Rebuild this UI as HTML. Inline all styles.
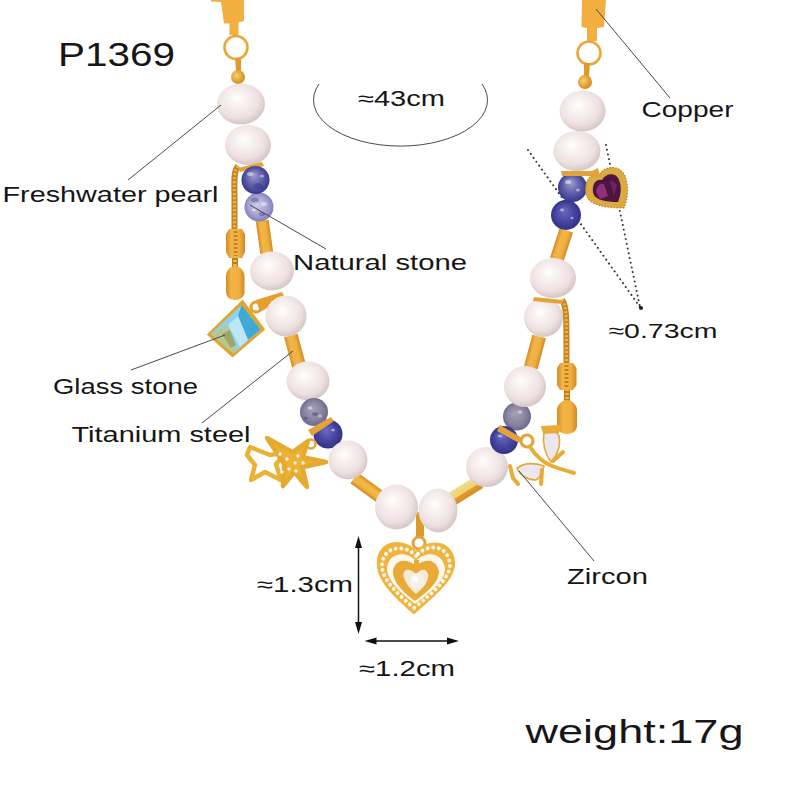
<!DOCTYPE html>
<html><head><meta charset="utf-8">
<style>
html,body{margin:0;padding:0;background:#fff;}
body{width:800px;height:800px;overflow:hidden;position:relative;}
svg{position:absolute;left:0;top:0;}
text{font-family:"Liberation Sans",sans-serif;fill:#161616;}
</style></head><body>
<svg width="800" height="800" viewBox="0 0 800 800">
<defs>
  <radialGradient id="pearl" cx="0.45" cy="0.42" r="0.62" fx="0.4" fy="0.35">
    <stop offset="0" stop-color="#ffffff"/>
    <stop offset="0.3" stop-color="#f8f1f0"/>
    <stop offset="0.7" stop-color="#ede1e0"/>
    <stop offset="0.92" stop-color="#d8c8c8"/>
    <stop offset="1" stop-color="#ddd0d0"/>
  </radialGradient>
  <linearGradient id="gold" x1="0" y1="0" x2="1" y2="1">
    <stop offset="0" stop-color="#f8c650"/>
    <stop offset="0.5" stop-color="#eeae35"/>
    <stop offset="1" stop-color="#d98c1e"/>
  </linearGradient>
  <radialGradient id="blue" cx="0.5" cy="0.5" r="0.55" fx="0.42" fy="0.35">
    <stop offset="0" stop-color="#6e6cc0"/>
    <stop offset="0.6" stop-color="#4343a0"/>
    <stop offset="1" stop-color="#2f2f7c"/>
  </radialGradient>
  <radialGradient id="blueL" cx="0.5" cy="0.5" r="0.55" fx="0.42" fy="0.4">
    <stop offset="0" stop-color="#d0cde6"/>
    <stop offset="0.6" stop-color="#a6a2d2"/>
    <stop offset="1" stop-color="#7c78b8"/>
  </radialGradient>
  <radialGradient id="blueG" cx="0.5" cy="0.5" r="0.55" fx="0.42" fy="0.38">
    <stop offset="0" stop-color="#a8a2b6"/>
    <stop offset="0.6" stop-color="#8a83a0"/>
    <stop offset="1" stop-color="#6a6284"/>
  </radialGradient>
  <radialGradient id="blueM" cx="0.5" cy="0.5" r="0.55" fx="0.42" fy="0.3">
    <stop offset="0" stop-color="#a8a3c8"/>
    <stop offset="0.45" stop-color="#6a68b0"/>
    <stop offset="1" stop-color="#30308a"/>
  </radialGradient>
  <radialGradient id="goldR" cx="0.4" cy="0.4" r="0.6">
    <stop offset="0" stop-color="#f9d070"/>
    <stop offset="1" stop-color="#d48c1e"/>
  </radialGradient>
  <linearGradient id="goldH" x1="0" y1="0" x2="1" y2="0">
    <stop offset="0" stop-color="#d68c26"/>
    <stop offset="0.3" stop-color="#f1b648"/>
    <stop offset="0.7" stop-color="#efb040"/>
    <stop offset="1" stop-color="#d28824"/>
  </linearGradient>
  <linearGradient id="goldV" x1="0" y1="0" x2="0" y2="1">
    <stop offset="0" stop-color="#d88e22"/>
    <stop offset="0.35" stop-color="#f2bb4a"/>
    <stop offset="0.7" stop-color="#f0b540"/>
    <stop offset="1" stop-color="#cf8420"/>
  </linearGradient>
  <linearGradient id="goldV2" x1="0" y1="0" x2="0" y2="1">
    <stop offset="0" stop-color="#f0dc8a"/>
    <stop offset="0.55" stop-color="#f2d070"/>
    <stop offset="0.6" stop-color="#e09a30"/>
    <stop offset="1" stop-color="#d88e22"/>
  </linearGradient>
</defs>

<!-- ===== annotations ===== -->

<g stroke="#333" stroke-width="2" stroke-dasharray="0.01 4.8" stroke-linecap="round" fill="none">
  <line x1="528" y1="150" x2="640" y2="307"/>
  <line x1="606" y1="145" x2="640" y2="307"/>
</g>
<circle cx="641" cy="308" r="2" fill="#222"/>
<g fill="#111" stroke="#111">
  <line x1="358.5" y1="545" x2="358.5" y2="625" stroke-width="1.5"/>
  <path d="M358.5,536 L355,548 L362,548 Z" stroke="none"/>
  <path d="M358.5,634 L355,622 L362,622 Z" stroke="none"/>
  <line x1="374" y1="641" x2="449" y2="641" stroke-width="1.5"/>
  <path d="M364.5,641 L376.5,637.5 L376.5,644.5 Z" stroke="none"/>
  <path d="M459,641 L447,637.5 L447,644.5 Z" stroke="none"/>
</g>

<text x="58" y="65.6" font-size="33.8" textLength="117" lengthAdjust="spacingAndGlyphs">P1369</text>
<text x="358" y="105.5" font-size="21.4" textLength="87" lengthAdjust="spacingAndGlyphs">≈43cm</text>
<text x="2.5" y="201.5" font-size="21.4" textLength="216" lengthAdjust="spacingAndGlyphs">Freshwater pearl</text>
<text x="293" y="270" font-size="21.9" textLength="174" lengthAdjust="spacingAndGlyphs">Natural stone</text>
<text x="641.5" y="117" font-size="21.9" textLength="92" lengthAdjust="spacingAndGlyphs">Copper</text>
<text x="608.5" y="338.4" font-size="20.9" textLength="109" lengthAdjust="spacingAndGlyphs">≈0.73cm</text>
<text x="53" y="393.5" font-size="21.9" textLength="145" lengthAdjust="spacingAndGlyphs">Glass stone</text>
<text x="71.5" y="442" font-size="22.4" textLength="179" lengthAdjust="spacingAndGlyphs">Titanium steel</text>
<text x="257" y="592" font-size="21.4" textLength="96" lengthAdjust="spacingAndGlyphs">≈1.3cm</text>
<text x="359" y="675.5" font-size="21.4" textLength="96" lengthAdjust="spacingAndGlyphs">≈1.2cm</text>
<text x="567" y="584" font-size="21.4" textLength="81" lengthAdjust="spacingAndGlyphs">Zircon</text>
<text x="525.5" y="743" font-size="33.8" textLength="218" lengthAdjust="spacingAndGlyphs">weight:17g</text>

<!-- ===== necklace ===== -->
<g id="necklace">
  <!-- top clasps -->
  <path d="M211,0 L244,0 L244,21 L238.5,22.5 L238.5,35 L229.5,35 L229.5,23.5 L224,23.5 L221,2 L211,1.5 Z" fill="#f3ae40"/>
  
  <circle cx="236" cy="47.5" r="11.5" fill="none" stroke="#eca638" stroke-width="2.6"/>
  <path d="M235,58 L241,58 L241,71 L236,71 Z" fill="#de9a2c"/>
  <circle cx="238" cy="77" r="7" fill="url(#goldR)"/>
  <path d="M582,0 L606,0 L604,27 L597,28 L597,41 L587,41 L587,28 L581.5,27 Z" fill="#f3ae40"/>
  
  <circle cx="589" cy="53" r="11.5" fill="none" stroke="#eca638" stroke-width="2.6"/>
  <path d="M584,63 L590,63 L589,77 L584,77 Z" fill="#de9a2c"/>
  <circle cx="585" cy="82" r="7" fill="url(#goldR)"/>

  <!-- chains -->
  <g fill="none" stroke-linecap="butt">
    <path d="M238,166 C234,170 234,180 234.5,195 L234.5,231" stroke="#c88320" stroke-width="6"/>
    <path d="M238,166 C234,170 234,180 234.5,195 L234.5,231" stroke="#eeb448" stroke-width="3" stroke-dasharray="2 2"/>
    <path d="M235,256 L235,267" stroke="#c47d1c" stroke-width="6"/>
    <path d="M235,256 L235,267" stroke="#f0b848" stroke-width="3.5" stroke-dasharray="2 2"/>
    <path d="M562,300 C567,306 566.5,320 566.5,364" stroke="#c88320" stroke-width="6"/>
    <path d="M562,300 C567,306 566.5,320 566.5,364" stroke="#eeb448" stroke-width="3" stroke-dasharray="2 2"/>
    <path d="M567,389 L567,401" stroke="#c47d1c" stroke-width="6"/>
    <path d="M567,389 L567,401" stroke="#f0b848" stroke-width="3.5" stroke-dasharray="2 2"/>
  </g>
  <path d="M229,229 L242,229 L245,234 L245,252 L242,258 L229,258 L226,252 L226,234 Z" fill="url(#goldH)"/><path d="M235.5,231 L235.5,256" stroke="#c88320" stroke-width="4" stroke-dasharray="2 2"/>
  <path d="M235,266 C240,266 244.5,271 244.5,276 L244.5,292 C244.5,297 240,300 235,300 C230,300 226,297 226,292 L226,276 C226,271 230,266 235,266 Z" fill="url(#goldH)"/>
  <path d="M560,363 L573,363 L576.5,368 L576.5,385 L573,390 L560,390 L557,385 L557,368 Z" fill="url(#goldH)"/><path d="M566.5,365 L566.5,388" stroke="#c88320" stroke-width="4" stroke-dasharray="2 2"/>
  <path d="M567,400 C572,400 577,405 577,410 L577,426 C577,431 572,434 567,434 C562,434 557,431 557,426 L557,410 C557,405 562,400 567,400 Z" fill="url(#goldH)"/>

  <!-- gold bars -->
  <rect x="-6.5" y="-16.5" width="13" height="33" fill="url(#goldH)" transform="translate(264.5,237) rotate(-8)"/>
  <rect x="-7" y="-16" width="14" height="32" fill="url(#goldH)" transform="translate(295,351) rotate(-15)"/>
  <rect x="-17" y="-6.5" width="34" height="13" fill="url(#goldV)" transform="translate(368,488) rotate(36)"/>
  <rect x="-17" y="-7" width="34" height="14" fill="url(#goldV2)" transform="translate(465,491) rotate(-32)"/>
  <rect x="-7" y="-16" width="14" height="32" fill="url(#goldH)" transform="translate(535,352) rotate(15)"/>
  <rect x="-7" y="-15.5" width="14" height="31" fill="url(#goldH)" transform="translate(561.5,245) rotate(18)"/>

  <!-- glass stone bail (behind pearl) -->
  <path d="M256,300 L282,292 L285,298 L260,312 Z" fill="#e3a02e"/>
  <circle cx="256" cy="307" r="5" fill="none" stroke="#e3a02e" stroke-width="3"/>

  <!-- left strand pearls/beads -->
  <ellipse cx="248" cy="145" rx="23" ry="20" fill="url(#pearl)"/>
  <ellipse cx="241" cy="104" rx="24" ry="20.5" fill="url(#pearl)"/>
  <path d="M238,168 L262,162 L264,166 L240,172 Z" fill="#e3a33a"/>
  <circle cx="259" cy="207" r="14.5" fill="url(#blueL)"/>
  <circle cx="255.5" cy="180" r="14" fill="url(#blueM)"/>
  <ellipse cx="286" cy="316" rx="20.5" ry="20.5" fill="url(#pearl)"/>
  <ellipse cx="272" cy="271" rx="22" ry="19.5" fill="url(#pearl)"/>
  <ellipse cx="308" cy="381" rx="21.5" ry="19.5" fill="url(#pearl)"/>
  <circle cx="328" cy="434" r="14.5" fill="url(#blue)"/>
  <circle cx="314" cy="412" r="14" fill="url(#blueG)"/>
  <path d="M308,430 L331,417 L334,421 L312,436 Z" fill="#e3a33a"/>
  <ellipse cx="348" cy="460" rx="19.5" ry="19.5" fill="url(#pearl)"/>
  <!-- heart bail -->
  <rect x="416" y="512" width="8" height="26" rx="3" fill="#dd9a2c"/>
  <ellipse cx="396.5" cy="507" rx="21.5" ry="22.5" fill="url(#pearl)"/>
  <ellipse cx="438" cy="510.5" rx="19.5" ry="22" fill="url(#pearl)"/>
  <!-- right strand -->
  <ellipse cx="487" cy="467" rx="21" ry="20" fill="url(#pearl)"/>
  <circle cx="517" cy="416.5" r="14" fill="url(#blueG)"/>
  <circle cx="504" cy="440" r="14" fill="url(#blue)"/>
  <path d="M500,425 L522,438 L519,443 L497,431 Z" fill="#e3a33a"/>
  <ellipse cx="525" cy="386.5" rx="21" ry="20.5" fill="url(#pearl)"/>
  <ellipse cx="543.5" cy="317.5" rx="19.5" ry="19.5" fill="url(#pearl)"/>
  <ellipse cx="553" cy="278" rx="23" ry="20" fill="url(#pearl)"/>
  <path d="M534,297 L563,300 L562,304 L533,301 Z" fill="#e3a33a"/>
  <circle cx="566" cy="215" r="15" fill="url(#blue)"/>
  <circle cx="572.5" cy="187.5" r="14.5" fill="url(#blueM)"/>
  <ellipse cx="577" cy="151" rx="23.5" ry="20" fill="url(#pearl)"/>
  <path d="M561,171 L598,171 L596,176 L562,176 Z" fill="#e3a33a"/>
  <ellipse cx="582.6" cy="111" rx="23" ry="20.5" fill="url(#pearl)"/>


  <!-- bead specks -->
  <g fill="#ffffff" opacity="0.45">
    <ellipse cx="250" cy="174" rx="3" ry="2"/><ellipse cx="262" cy="176" rx="2" ry="1.5"/>
    <ellipse cx="264" cy="204" rx="3" ry="2"/><ellipse cx="254" cy="210" rx="2.5" ry="1.6"/>
    <ellipse cx="310" cy="408" rx="2.5" ry="1.8"/><ellipse cx="320" cy="416" rx="2" ry="1.5"/>
    <ellipse cx="333" cy="430" rx="2" ry="1.5"/>
    <ellipse cx="500" cy="436" rx="2.5" ry="1.6"/><ellipse cx="520" cy="412" rx="2.5" ry="1.8"/>
    <ellipse cx="568" cy="182" rx="3" ry="2"/><ellipse cx="578" cy="190" rx="2" ry="1.5"/>
    <ellipse cx="562" cy="210" rx="2" ry="1.4"/><ellipse cx="572" cy="218" rx="1.6" ry="1.2"/>
  </g>
  <g fill="#2a2a80" opacity="0.35">
    <ellipse cx="258" cy="186" rx="5" ry="3"/><ellipse cx="255" cy="200" rx="4" ry="2.5"/>
    <ellipse cx="315" cy="414" rx="3" ry="2"/><ellipse cx="306" cy="418" rx="2" ry="1.6"/>
    <ellipse cx="262" cy="214" rx="3" ry="2"/>
  </g>
  <!-- glass stone -->
  <polygon points="242.7,299.6 265.2,329.4 232.6,357.5 206.8,334.4" fill="#e3a42e"/>
  <polygon points="241.5,305 260.5,329.5 233.5,353.5 210.5,334" fill="#8fd2ee"/>
  <polygon points="241.5,305 260.5,329.5 248,340 238,316" fill="#3eaad8"/>
  <polygon points="238,316 248,340 240,347 228,325" fill="#bfe6f6"/>
  <polygon points="210.5,334 228,325 236,348 233.5,353.5" fill="#b8c78e"/>
  <polygon points="222,334 230,330 236,345 231,348" fill="#8d9a5a" opacity="0.7"/>
  <!-- red heart -->
  <path d="M624,208 C608,208 588,206 586,194 C584,182 590,172 600,174 C604,166 620,164 625,176 C629,186 628,198 624,208 Z" fill="#dcaa40"/>
  <path d="M624,208 C608,208 588,206 586,194 C584,182 590,172 600,174 C604,166 620,164 625,176 C629,186 628,198 624,208 Z" fill="none" stroke="#b98420" stroke-width="1.2" stroke-dasharray="1.5 1.5"/>
  <path d="M618,202 C606,202 594,200 593,192 C592,184 596,179 602,180 C606,173 616,172 619,180 C622,187 621,195 618,202 Z" fill="#4c1640"/>
  <path d="M596,192 C597,186 600,183 604,184 L608,196 L600,199 Z" fill="#a8388e" opacity="0.75"/>
  <path d="M610,180 L617,184 L614,196 Z" fill="#8e2a78" opacity="0.6"/>
  <!-- gold link to red heart -->
  <path d="M590,172 L598,168 L600,176 L592,178 Z" fill="#e3a33a"/>
  <!-- heart pendant -->
  <circle cx="419" cy="543" r="6" fill="none" stroke="#e3a33a" stroke-width="3"/>
  <path d="M416,551 C411,544 400,540 390,543 C380,546 376,556 377,566 C378,580 390,594 414,614.5 C437,594 452,582 455,566 C456,555 450,545 440,543 C430,541 421,545 416,551 Z" fill="#efb43e"/>
  <path d="M416,556 C411,550 402,547 394,549 C386,551 382,558 382,567 C383,579 394,591 414,608 C434,592 447,580 450,567 C450,558 446,550 438,548 C430,546 421,550 416,556 Z" fill="none" stroke="#fbf6ea" stroke-width="4" stroke-dasharray="0.01 5.6" stroke-linecap="round"/>
  <path d="M416,561 C411,556 404,553 397,555 C390,557 387,563 387,570 C388,580 398,591 415,604 C432,591 444,581 445,570 C445,563 441,557 435,555 C428,553 421,556 416,561 Z" fill="#fdf8ee"/>
  <path d="M416,566 C412,562 406,560 401,561 C395,563 393,568 393,573 C394,582 402,592 415,601 C428,592 438,582 439,573 C439,568 436,563 431,561 C426,560 420,562 416,566 Z" fill="#e9aa36"/>
  <path d="M416,574 C413,571 409,569 406,570 C403,572 403,575 404,578 C406,584 410,589 416,594 C422,589 427,584 428,578 C429,575 428,572 425,570 C422,569 419,571 416,574 Z" fill="#f6ead2"/>
  <circle cx="417" cy="581" r="7.5" fill="#f4f1ee"/>
  <circle cx="415" cy="579" r="3" fill="#ffffff"/>
  <rect x="414" y="560" width="5" height="7" fill="#e9aa36"/>
  <!-- starfish -->
  <circle cx="311" cy="444" r="4.5" fill="none" stroke="#e3a33a" stroke-width="2.5"/>
  <path d="M250,447 L270,455 L287,452 L276,464 L281,480 L265,472 L251,480 L255,465 L247,455 Z" fill="none" stroke="#eab133" stroke-width="4.5" stroke-linejoin="round"/>
  <path d="M267.0,438.0 L292.7,452.1 L308.0,441.0 L302.8,457.3 L326.0,462.0 L302.5,467.2 L307.0,487.0 L294.2,472.0 L283.0,486.0 L284.2,464.1 Z" fill="#ecb232" stroke="#e6aa2e" stroke-width="4.5" stroke-linejoin="round"/>
  <g fill="#f4f2ee">
    <circle cx="280" cy="454" r="1.7"/><circle cx="287" cy="459" r="1.7"/><circle cx="295" cy="463" r="1.7"/>
    <circle cx="303" cy="463" r="1.7"/><circle cx="289" cy="469" r="1.7"/><circle cx="296" cy="471" r="1.7"/>
    <circle cx="298" cy="456" r="1.7"/><circle cx="282" cy="472" r="1.7"/>
  </g>
  <!-- dragonfly -->
  <circle cx="527" cy="441" r="6" fill="none" stroke="#e3a33a" stroke-width="3.2"/>
  <path d="M544,432 C548,431 557,431 559,436 C561,446 557,456 551,462 C546,455 542,444 544,432 Z" fill="#ebe6f0" stroke="#e6a934" stroke-width="1.6"/>
  <path d="M541,426 L560,425 L559,433 L543,434 Z" fill="#e8ac36"/>
  <path d="M517,468 C525,462 536,463 544,466 C543,472 540,478 536,480 C528,480 520,476 517,468 Z" fill="#ebe6f0" stroke="#e6a934" stroke-width="1.6"/>
  <g stroke="#e8ac36" stroke-width="4" fill="none" stroke-linecap="round">
    <path d="M530,447 C536,456 544,463 552,466 C560,469 567,471 574,473"/>
    <path d="M553,461 L563,452"/>
    <path d="M542,470 L541,484"/>
    <path d="M510,466 L513,478 L518,484"/>
  </g>
</g>
<g stroke="#4a4a4a" stroke-width="1" fill="none">
  <path d="M319,84 A87,46 0 1 0 482,84"/>
  <line x1="128" y1="180" x2="221" y2="105"/>
  <line x1="250" y1="205" x2="326" y2="249"/>
  <line x1="596" y1="9" x2="670" y2="98"/>
  <line x1="131" y1="370" x2="225" y2="335"/>
  <line x1="202" y1="423" x2="293" y2="351"/>
  <line x1="519" y1="471" x2="594" y2="561"/>
</g>
</svg>
</body></html>
